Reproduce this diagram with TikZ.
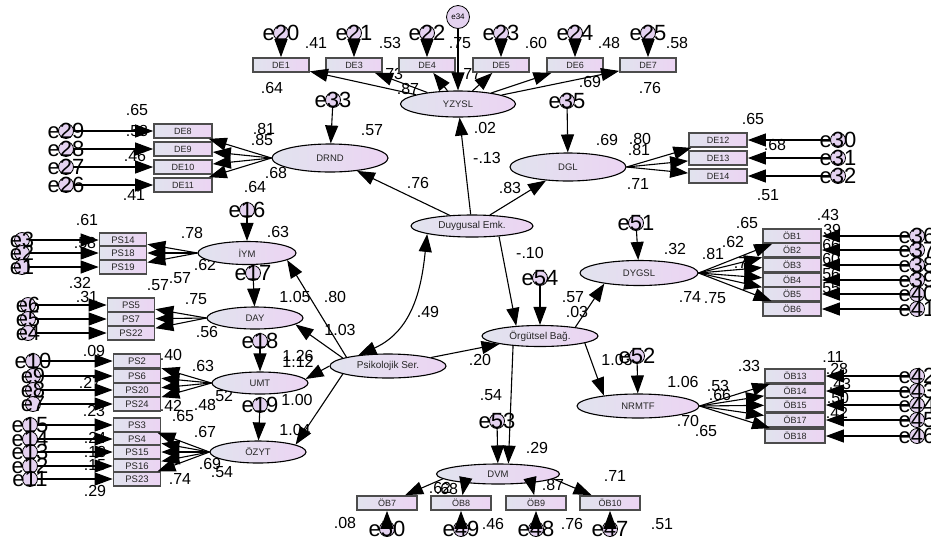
\documentclass[tikz,border=0pt]{standalone}
\usepackage{fontspec}
\setmainfont{Liberation Sans}
\usetikzlibrary{arrows.meta,shapes.geometric}
\definecolor{latL}{HTML}{E1E3EE}
\definecolor{latR}{HTML}{ECD4F3}
\definecolor{errF}{HTML}{E4D2F0}
\newcounter{labc}
\newcommand\vlab[2]{\stepcounter{labc}\node[val] (lab\arabic{labc}) at (#1) {#2};}
\begin{document}
\begin{tikzpicture}[x=1pt,y=-1pt,
  lat/.style={ellipse, draw, line width=1.1pt, left color=latL, right color=latR, inner sep=0pt, font=\fontsize{9.5}{10}\selectfont, text=black!85},
  obs/.style={rectangle, draw=black!70, line width=1.7pt, left color=latL, right color=latR, inner sep=0pt, minimum width=56pt, minimum height=14pt, font=\fontsize{9}{10}\selectfont, text=black!85},
  psb/.style={obs, minimum width=47pt, minimum height=13.5pt, font=\fontsize{9.5}{10}\selectfont},
  obb/.style={obs, minimum width=58pt, minimum height=14pt},
  errc/.style={circle, draw, line width=0.8pt, fill=errF, minimum size=15pt, inner sep=0pt},
  errt/.style={font=\fontsize{22}{22}\selectfont, inner sep=0pt},
  val/.style={font=\fontsize{16}{16}\selectfont, inner sep=0pt},
  pth/.style={line width=1.1pt, -{Triangle[length=18pt,width=13pt]}},
  dbl/.style={line width=1.1pt, {Triangle[length=18pt,width=13pt]}-{Triangle[length=18pt,width=13pt]}}]
\useasboundingbox (0,0) rectangle (931,539);
\fill[white] (0,0) rectangle (931,539);

% ---------- value labels (drawn first, arrows may cover them)
\vlab{316,43}{.41}\vlab{390,43}{.53}\vlab{460,43}{.75}\vlab{536,43}{.60}\vlab{609,43}{.48}\vlab{677,43}{.58}
\vlab{272,88}{.64}\vlab{392,74}{.73}\vlab{408,89}{.87}\vlab{470,74}{.77}\vlab{590,82}{.69}\vlab{650,88}{.76}
\vlab{372,130}{.57}\vlab{607,140}{.69}
\vlab{485,128}{.02}\vlab{487,158}{-.13}\vlab{418,183}{.76}\vlab{510,188}{.83}
\vlab{530,253}{-.10}\vlab{428,312}{.49}\vlab{573,297}{.57}\vlab{577,312}{.03}\vlab{480,360}{.20}\vlab{491,395}{.54}\vlab{537,448}{.29}
\vlab{675,249}{.32}
\vlab{137,110}{.65}\vlab{137,131}{.58}\vlab{135,156}{.46}\vlab{134,195}{.41}
\vlab{264,129}{.81}\vlab{262,140}{.85}\vlab{276,173}{.68}\vlab{255,187}{.64}
\vlab{753,119}{.65}\vlab{775,145}{.68}\vlab{768,195}{.51}\vlab{640,139}{.80}\vlab{639,150}{.81}\vlab{638,184}{.71}
\vlab{828,215}{.43}\vlab{830,230}{.39}\vlab{829,245}{.66}\vlab{829,259}{.60}\vlab{829,274}{.56}\vlab{829,288}{.55}
\vlab{747,223}{.65}\vlab{733,242}{.62}\vlab{713,254}{.81}\vlab{745,263}{.77}\vlab{690,297}{.74}\vlab{715,298}{.75}
\vlab{617,360}{1.03}\vlab{683,382}{1.06}\vlab{749,366}{.33}\vlab{718,386}{.53}\vlab{720,395}{.66}\vlab{688,421}{.70}\vlab{706,431}{.65}
\vlab{833,357}{.11}\vlab{837,369}{.28}\vlab{840,384}{.43}\vlab{838,398}{.50}\vlab{837,413}{.42}
\vlab{440,488}{.62}\vlab{447,489}{.68}\vlab{553,485}{.87}\vlab{615,476}{.71}
\vlab{345,523}{.08}\vlab{493,524}{.46}\vlab{572,524}{.76}\vlab{662,524}{.51}
\vlab{278,232}{.63}\vlab{87,220}{.61}\vlab{85,243}{.58}\vlab{80,283}{.32}\vlab{192,233}{.78}\vlab{205,265}{.62}\vlab{180,278}{.57}\vlab{158,285}{.57}
\vlab{87,297}{.31}\vlab{196,299}{.75}\vlab{207,332}{.56}
\vlab{94,351}{.09}\vlab{90,383}{.27}\vlab{94,411}{.23}\vlab{171,355}{.40}\vlab{203,366}{.63}\vlab{222,396}{.52}\vlab{205,405}{.48}\vlab{171,406}{.42}\vlab{183,416}{.65}
\vlab{205,432}{.67}\vlab{210,464}{.69}\vlab{222,472}{.54}\vlab{180,479}{.74}\vlab{95,491}{.29}\vlab{95,438}{.24}\vlab{95,452}{.18}\vlab{95,465}{.15}
\vlab{295,297}{1.05}\vlab{335,297}{.80}\vlab{340,330}{1.03}\vlab{298,356}{1.26}\vlab{298,362}{1.12}\vlab{297,400}{1.00}\vlab{295,430}{1.04}

% ---------- latent variables
\node[lat, minimum width=115pt, minimum height=26pt] (YZYSL) at (458,104) {YZYSL};
\node[lat, minimum width=116pt, minimum height=28pt] (DRND) at (330,158) {DRND};
\node[lat, minimum width=116pt, minimum height=28pt] (DGL) at (568,167) {DGL};
\node[lat, minimum width=122pt, minimum height=22pt, font=\fontsize{10}{10}\selectfont] (Duy) at (472,226) {Duygusal Emk.};
\node[lat, minimum width=116pt, minimum height=21pt, font=\fontsize{10}{10}\selectfont] (Org) at (540,336) {Örgütsel Bağ.};
\node[lat, minimum width=116pt, minimum height=24pt, font=\fontsize{10}{10}\selectfont] (Psi) at (388,366) {Psikolojik Ser.};
\node[lat, minimum width=118pt, minimum height=25pt] (DYGSL) at (639,273) {DYGSL};
\node[lat, minimum width=122pt, minimum height=24pt] (NRMTF) at (638,406) {NRMTF};
\node[lat, minimum width=123pt, minimum height=20pt] (DVM) at (498,474) {DVM};
\node[lat, minimum width=98pt, minimum height=23pt] (IYM) at (247,253) {İYM};
\node[lat, minimum width=96pt, minimum height=22pt] (DAY) at (255,318) {DAY};
\node[lat, minimum width=96pt, minimum height=22pt] (UMT) at (260,383) {UMT};
\node[lat, minimum width=96pt, minimum height=22pt] (OZYT) at (258,452) {ÖZYT};

% ---------- observed variables
\node[obs] (DE1) at (281,65) {DE1};
\node[obs] (DE3) at (354,65) {DE3};
\node[obs] (DE4) at (427,65) {DE4};
\node[obs] (DE5) at (501,65) {DE5};
\node[obs] (DE6) at (575,65) {DE6};
\node[obs] (DE7) at (648,65) {DE7};
\node[obb] (DE8) at (183,131) {DE8};
\node[obb] (DE9) at (183,149) {DE9};
\node[obb] (DE10) at (183,167) {DE10};
\node[obb] (DE11) at (183,185) {DE11};
\node[obb] (DE12) at (718,140) {DE12};
\node[obb] (DE13) at (718,158) {DE13};
\node[obb] (DE14) at (718,176) {DE14};
\node[psb] (PS14) at (123,240) {PS14};
\node[psb] (PS18) at (123,253) {PS18};
\node[psb] (PS19) at (123,267) {PS19};
\node[psb] (PS5) at (131,305) {PS5};
\node[psb] (PS7) at (131,319) {PS7};
\node[psb] (PS22) at (131,333) {PS22};
\node[psb] (PS2) at (137,361) {PS2};
\node[psb] (PS6) at (137,376) {PS6};
\node[psb] (PS20) at (137,390) {PS20};
\node[psb] (PS24) at (137,404) {PS24};
\node[psb] (PS3) at (137,425) {PS3};
\node[psb] (PS4) at (137,439) {PS4};
\node[psb] (PS15) at (137,452) {PS15};
\node[psb] (PS16) at (137,466) {PS16};
\node[psb] (PS23) at (137,479) {PS23};
\node[obb] (OB1) at (792,236) {ÖB1};
\node[obb] (OB2) at (792,250) {ÖB2};
\node[obb] (OB3) at (792,265) {ÖB3};
\node[obb] (OB4) at (792,280) {ÖB4};
\node[obb] (OB5) at (792,294) {ÖB5};
\node[obb] (OB6) at (792,309) {ÖB6};
\node[obb, minimum width=60pt] (OB13) at (795,376) {ÖB13};
\node[obb, minimum width=60pt] (OB14) at (795,391) {ÖB14};
\node[obb, minimum width=60pt] (OB15) at (795,405) {ÖB15};
\node[obb, minimum width=60pt] (OB17) at (795,420) {ÖB17};
\node[obb, minimum width=60pt] (OB18) at (795,436) {ÖB18};
\node[obb, minimum width=60pt] (OB7) at (387,503) {ÖB7};
\node[obb, minimum width=60pt] (OB8) at (461,503) {ÖB8};
\node[obb, minimum width=60pt] (OB9) at (536,503) {ÖB9};
\node[obb, minimum width=60pt] (OB10) at (610,503) {ÖB10};

% ---------- error circles (circles only; labels later)
\node[errc, minimum size=23pt] (e34) at (458,17) {};
\node[font=\fontsize{8}{8}\selectfont, inner sep=0pt] (e34t) at (458,17) {e34};
\foreach \n/\p in {e20/{281,33},e21/{354,33},e22/{427,33},e23/{501,33},e24/{575,33},e25/{648,33},
  e33/{333,100},e35/{567,101},
  e29/{66,131},e28/{66,149},e27/{66,167},e26/{66,185},
  e30/{838,140},e31/{838,158},e32/{838,176},
  e16/{247,210},e17/{253,273},e18/{260,341},e19/{260,405},
  e3/{22,240},e2/{22,253},e1/{22,267},
  e6/{28,305},e5/{28,319},e4/{28,333},
  e10/{33,361},e9/{33,376},e8/{33,390},e7/{33,404},
  e15/{30,425},e14/{30,439},e13/{30,452},e12/{30,466},e11/{30,479},
  e51/{636,223},e54/{540,278},e52/{637,356},e53/{497,421},
  e36/{917,236},e37/{917,250},e38/{917,265},e39/{917,280},e40/{917,294},e41/{917,309},
  e42/{917,376},e43/{917,391},e44/{917,405},e45/{917,420},e46/{917,436},
  e50/{387,529},e49/{461,529},e48/{536,529},e47/{610,529}}
  {\node[errc] (\n) at (\p) {};}

% ---------- paths
\draw[pth] (e34) -- (YZYSL);
\foreach \b in {DE1,DE3,DE4,DE5,DE6,DE7} \draw[pth] (YZYSL) -- (\b);
\draw[pth] (e20) -- (DE1); \draw[pth] (e21) -- (DE3); \draw[pth] (e22) -- (DE4);
\draw[pth] (e23) -- (DE5); \draw[pth] (e24) -- (DE6); \draw[pth] (e25) -- (DE7);
\draw[pth] (e33) -- (DRND); \draw[pth] (e35) -- (DGL);
\foreach \b in {DE8,DE9,DE10,DE11} \draw[pth] (DRND.west) -- (\b);
\draw[pth] (e29) -- (DE8); \draw[pth] (e28) -- (DE9); \draw[pth] (e27) -- (DE10); \draw[pth] (e26) -- (DE11);
\foreach \b in {DE12,DE13,DE14} \draw[pth] (DGL.east) -- (\b);
\draw[pth] (e30) -- (DE12); \draw[pth] (e31) -- (DE13); \draw[pth] (e32) -- (DE14);

\draw[pth] (Duy) -- (YZYSL);
\draw[pth] (Duy) -- (DRND);
\draw[pth] (Duy) -- (DGL);
\draw[pth] (Duy.-21) -- (Org.157);
\draw[pth] (e54) -- (Org);
\draw[pth] (Psi) -- (Org);
\draw[dbl] (Psi.160) .. controls (415,330) and (422,282) .. (Duy.190);
\draw[pth] (Org.14) -- (DYGSL.197);
\draw[pth] (Org.-9) -- (NRMTF.163);
\draw[pth] (Org.200) -- (DVM.45);
\draw[pth] (e53) -- (DVM);
\draw[pth] (e51) -- (DYGSL);
\draw[pth] (e52) -- (NRMTF);

\foreach \b in {OB1,OB2,OB3,OB4,OB5,OB6} \draw[pth] (DYGSL.east) -- (\b);
\draw[pth] (e36) -- (OB1); \draw[pth] (e37) -- (OB2); \draw[pth] (e38) -- (OB3);
\draw[pth] (e39) -- (OB4); \draw[pth] (e40) -- (OB5); \draw[pth] (e41) -- (OB6);
\foreach \b in {OB13,OB14,OB15,OB17,OB18} \draw[pth] (NRMTF.east) -- (\b);
\draw[pth] (e42) -- (OB13); \draw[pth] (e43) -- (OB14); \draw[pth] (e44) -- (OB15);
\draw[pth] (e45) -- (OB17); \draw[pth] (e46) -- (OB18);
\draw[pth] (DVM.185) -- (OB7); \draw[pth] (DVM.195) -- (OB8);
\draw[pth] (DVM.-15) -- (OB9); \draw[pth] (DVM.-5) -- (OB10);
\draw[pth] (e50) -- (OB7); \draw[pth] (e49) -- (OB8); \draw[pth] (e48) -- (OB9); \draw[pth] (e47) -- (OB10);

\draw[pth] (Psi.168) -- (IYM.-10);
\draw[pth] (Psi.170) -- (DAY.-9);
\draw[pth] (Psi.180) -- (UMT.5);
\draw[pth] (Psi.190) -- (OZYT.11);
\draw[pth] (e16) -- (IYM); \draw[pth] (e17) -- (DAY); \draw[pth] (e18) -- (UMT); \draw[pth] (e19) -- (OZYT);
\foreach \b in {PS14,PS18,PS19} \draw[pth] (IYM.west) -- (\b);
\foreach \b in {PS5,PS7,PS22} \draw[pth] (DAY.west) -- (\b);
\foreach \b in {PS2,PS6,PS20,PS24} \draw[pth] (UMT.west) -- (\b);
\foreach \b in {PS3,PS4,PS15,PS16,PS23} \draw[pth] (OZYT.west) -- (\b);
\draw[pth] (e3) -- (PS14); \draw[pth] (e2) -- (PS18); \draw[pth] (e1) -- (PS19);
\draw[pth] (e6) -- (PS5); \draw[pth] (e5) -- (PS7); \draw[pth] (e4) -- (PS22);
\draw[pth] (e10) -- (PS2); \draw[pth] (e9) -- (PS6); \draw[pth] (e8) -- (PS20); \draw[pth] (e7) -- (PS24);
\draw[pth] (e15) -- (PS3); \draw[pth] (e14) -- (PS4); \draw[pth] (e13) -- (PS15); \draw[pth] (e12) -- (PS16); \draw[pth] (e11) -- (PS23);

% ---------- error labels on top
\foreach \n/\p in {e20/{281,33},e21/{354,33},e22/{427,33},e23/{501,33},e24/{575,33},e25/{648,33},
  e33/{333,100},e35/{567,101},
  e29/{66,131},e28/{66,149},e27/{66,167},e26/{66,185},
  e30/{838,140},e31/{838,158},e32/{838,176},
  e16/{247,210},e17/{253,273},e18/{260,341},e19/{260,405},
  e3/{22,240},e2/{22,253},e1/{22,267},
  e6/{28,305},e5/{28,319},e4/{28,333},
  e10/{33,361},e9/{33,376},e8/{33,390},e7/{33,404},
  e15/{30,425},e14/{30,439},e13/{30,452},e12/{30,466},e11/{30,479},
  e51/{636,223},e54/{540,278},e52/{637,356},e53/{497,421},
  e36/{917,236},e37/{917,250},e38/{917,265},e39/{917,280},e40/{917,294},e41/{917,309},
  e42/{917,376},e43/{917,391},e44/{917,405},e45/{917,420},e46/{917,436},
  e50/{387,529},e49/{461,529},e48/{536,529},e47/{610,529}}
  {\node[errt] (\n t) at (\p) {\n};}
\end{tikzpicture}
\end{document}
